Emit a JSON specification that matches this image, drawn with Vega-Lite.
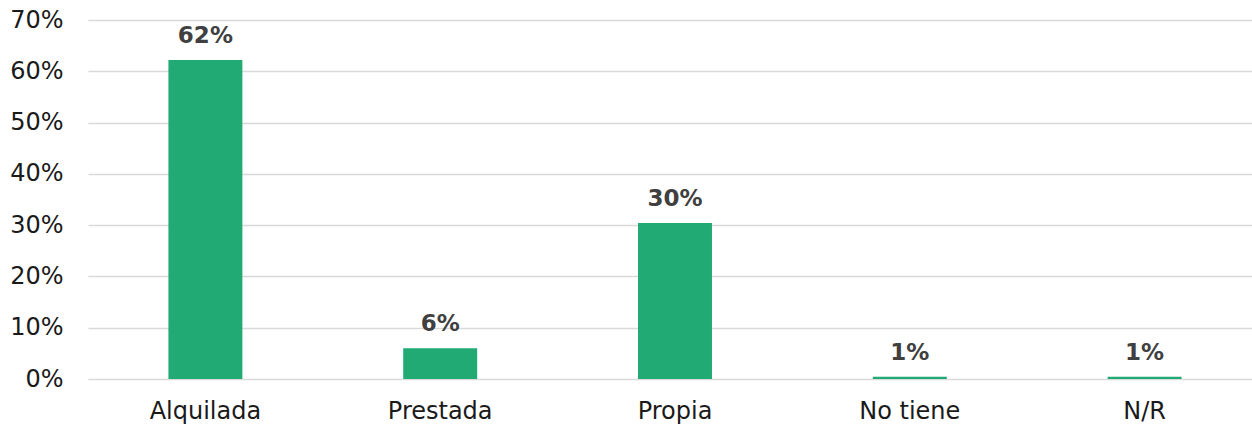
{
  "$schema": "https://vega.github.io/schema/vega-lite/v6.json",
  "width": 1174,
  "height": 359,
  "autosize": {"type": "none"},
  "padding": {"left": 88, "top": 20, "right": 0, "bottom": 46},
  "background": "white",
  "config": {
    "view": {"stroke": null},
    "font": "DejaVu Sans"
  },
  "data": {
    "values": [
      {"categoria": "Alquilada", "valor": 0.622, "etiqueta": "62%"},
      {"categoria": "Prestada", "valor": 0.06, "etiqueta": "6%"},
      {"categoria": "Propia", "valor": 0.304, "etiqueta": "30%"},
      {"categoria": "No tiene", "valor": 0.0045, "etiqueta": "1%"},
      {"categoria": "N/R", "valor": 0.0045, "etiqueta": "1%"}
    ]
  },
  "encoding": {
    "x": {
      "field": "categoria",
      "type": "nominal",
      "sort": null,
      "scale": {"paddingInner": 0.685, "paddingOuter": 0.3425},
      "axis": {
        "title": null,
        "labelAngle": 0,
        "ticks": false,
        "domain": false,
        "labelFontSize": 24,
        "labelColor": "#1a1a1a",
        "labelPadding": 20,
        "labelFont": "DejaVu Sans"
      }
    },
    "y": {
      "field": "valor",
      "type": "quantitative",
      "scale": {"domain": [0, 0.7]},
      "axis": {
        "title": null,
        "format": ".0%",
        "values": [0, 0.1, 0.2, 0.3, 0.4, 0.5, 0.6, 0.7],
        "ticks": false,
        "domain": false,
        "grid": true,
        "gridColor": "#d9d9d9",
        "gridWidth": 1.5,
        "labelFontSize": 24,
        "labelColor": "#1a1a1a",
        "labelPadding": 25,
        "labelFont": "DejaVu Sans"
      }
    }
  },
  "layer": [
    {"mark": {"type": "bar", "color": "#22AA74"}},
    {
      "mark": {
        "type": "text",
        "baseline": "alphabetic",
        "dy": -17,
        "fontSize": 23,
        "fontWeight": "bold",
        "color": "#404040",
        "font": "DejaVu Sans"
      },
      "encoding": {"text": {"field": "etiqueta"}}
    }
  ]
}
